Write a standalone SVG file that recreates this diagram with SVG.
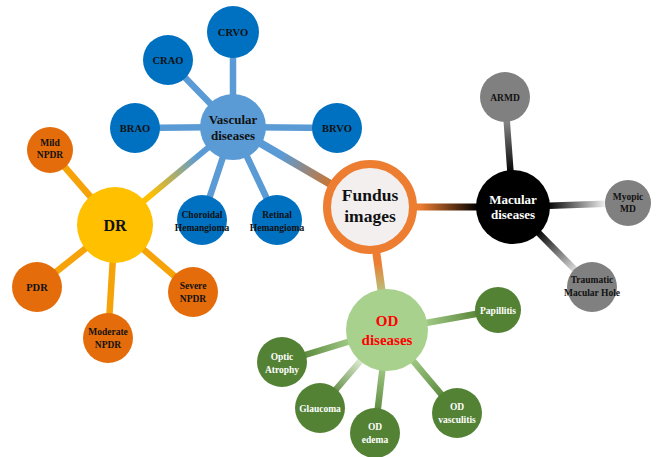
<svg xmlns="http://www.w3.org/2000/svg" width="656" height="457" viewBox="0 0 656 457">
<defs>
<linearGradient id="gVF" gradientUnits="userSpaceOnUse" x1="233" y1="127" x2="370" y2="207"><stop offset="0.35" stop-color="#5b9bd5"/><stop offset="0.8" stop-color="#e46c0a"/></linearGradient>
<linearGradient id="gVD" gradientUnits="userSpaceOnUse" x1="233" y1="127" x2="115" y2="225"><stop offset="0.3" stop-color="#5b9bd5"/><stop offset="0.7" stop-color="#ffc000"/></linearGradient>
<linearGradient id="gFM" gradientUnits="userSpaceOnUse" x1="370" y1="207" x2="513" y2="207"><stop offset="0.35" stop-color="#ed7d31"/><stop offset="0.75" stop-color="#000"/></linearGradient>
<linearGradient id="gFO" gradientUnits="userSpaceOnUse" x1="370" y1="207" x2="387" y2="330"><stop offset="0.45" stop-color="#ed7d31"/><stop offset="0.75" stop-color="#a9d18e"/></linearGradient>
<linearGradient id="gD" gradientUnits="userSpaceOnUse" x1="0" y1="0" x2="1" y2="0"><stop offset="0" stop-color="#ffc000"/></linearGradient>
<linearGradient id="gM1" gradientUnits="userSpaceOnUse" x1="513" y1="207" x2="505" y2="97"><stop offset="0.3" stop-color="#000"/><stop offset="0.85" stop-color="#9a9a9a"/></linearGradient>
<linearGradient id="gM2" gradientUnits="userSpaceOnUse" x1="513" y1="207" x2="628" y2="203"><stop offset="0.3" stop-color="#000"/><stop offset="0.8" stop-color="#eeeeee"/></linearGradient>
<linearGradient id="gM3" gradientUnits="userSpaceOnUse" x1="513" y1="207" x2="592" y2="287"><stop offset="0.3" stop-color="#000"/><stop offset="0.8" stop-color="#e0e0e0"/></linearGradient>
<linearGradient id="gO1" gradientUnits="userSpaceOnUse" x1="387" y1="330" x2="498" y2="310"><stop offset="0.3" stop-color="#a9d18e"/><stop offset="0.85" stop-color="#548235"/></linearGradient>
<linearGradient id="gO2" gradientUnits="userSpaceOnUse" x1="387" y1="330" x2="282" y2="362"><stop offset="0.3" stop-color="#a9d18e"/><stop offset="0.85" stop-color="#548235"/></linearGradient>
<linearGradient id="gO3" gradientUnits="userSpaceOnUse" x1="387" y1="330" x2="320" y2="408"><stop offset="0.35" stop-color="#e8f3df"/><stop offset="0.85" stop-color="#548235"/></linearGradient>
<linearGradient id="gO4" gradientUnits="userSpaceOnUse" x1="387" y1="330" x2="375" y2="433"><stop offset="0.3" stop-color="#a9d18e"/><stop offset="0.85" stop-color="#548235"/></linearGradient>
<linearGradient id="gO5" gradientUnits="userSpaceOnUse" x1="387" y1="330" x2="457" y2="413"><stop offset="0.3" stop-color="#a9d18e"/><stop offset="0.85" stop-color="#548235"/></linearGradient>
</defs>
<style>
text{font-family:"Liberation Serif","Times New Roman",serif;font-weight:bold;text-anchor:middle;fill:#111}
.sm{font-size:10.5px}
.xs{font-size:9.5px}
.w{fill:#fff}
.c line{stroke-linecap:round}
.vb{fill:#0070c0}
.og{fill:#e46c0a}
.gr{fill:#808080}
.dg{fill:#548235}
</style>
<rect width="656" height="457" fill="#fff"/>
<g id="connectors" class="c" fill="none">
<line x1="233" y1="127" x2="370" y2="207" stroke="url(#gVF)" stroke-width="8"/>
<line x1="233" y1="127" x2="115" y2="225" stroke="url(#gVD)" stroke-width="6"/>
<line x1="370" y1="207" x2="513" y2="207" stroke="url(#gFM)" stroke-width="7"/>
<line x1="370" y1="207" x2="387" y2="330" stroke="url(#gFO)" stroke-width="8"/>
<g stroke="#5b9bd5" stroke-width="6.5">
<line x1="233" y1="127" x2="233" y2="32"/>
<line x1="233" y1="127" x2="168" y2="60"/>
<line x1="233" y1="127" x2="135" y2="128"/>
<line x1="233" y1="127" x2="337" y2="128"/>
<line x1="233" y1="127" x2="202" y2="220"/>
<line x1="233" y1="127" x2="277" y2="220"/>
</g>
<g stroke="#f5a308" stroke-width="6.5">
<line x1="115" y1="225" x2="50" y2="150"/>
<line x1="115" y1="225" x2="37" y2="287"/>
<line x1="115" y1="225" x2="108" y2="338"/>
<line x1="115" y1="225" x2="193" y2="292"/>
</g>
<line x1="513" y1="207" x2="505" y2="97" stroke="url(#gM1)" stroke-width="6.5"/>
<line x1="513" y1="207" x2="628" y2="203" stroke="url(#gM2)" stroke-width="6.5"/>
<line x1="513" y1="207" x2="592" y2="287" stroke="url(#gM3)" stroke-width="6.5"/>
<line x1="387" y1="330" x2="498" y2="310" stroke="url(#gO1)" stroke-width="6.5"/>
<line x1="387" y1="330" x2="282" y2="362" stroke="url(#gO2)" stroke-width="6.5"/>
<line x1="387" y1="330" x2="320" y2="408" stroke="url(#gO3)" stroke-width="6.5"/>
<line x1="387" y1="330" x2="375" y2="433" stroke="url(#gO4)" stroke-width="6.5"/>
<line x1="387" y1="330" x2="457" y2="413" stroke="url(#gO5)" stroke-width="6.5"/>
</g>
<g id="fundus"><circle cx="370" cy="207" r="43" fill="#f3efef" stroke="#ed7d31" stroke-width="8"/><text x="370" y="201" font-size="17.5">Fundus</text><text x="370" y="222" font-size="17.5">images</text></g>
<g id="vascular"><circle cx="233" cy="127" r="33" fill="#5b9bd5"/><text x="233" y="124" font-size="13">Vascular</text><text x="233" y="140" font-size="13">diseases</text></g>
<g id="crvo"><circle class="vb" cx="233" cy="32" r="26"/><text class="sm" x="233" y="36">CRVO</text></g>
<g id="crao"><circle class="vb" cx="168" cy="60" r="25"/><text class="sm" x="168" y="64">CRAO</text></g>
<g id="brao"><circle class="vb" cx="135" cy="128" r="25"/><text class="sm" x="135" y="132">BRAO</text></g>
<g id="brvo"><circle class="vb" cx="337" cy="128" r="25"/><text class="sm" x="337" y="132">BRVO</text></g>
<g id="choroidal"><circle class="vb" cx="202" cy="220" r="25"/><text class="xs" x="202" y="218">Choroidal</text><text class="xs" x="202" y="231">Hemangioma</text></g>
<g id="retinal"><circle class="vb" cx="277" cy="220" r="25"/><text class="xs" x="277" y="218">Retinal</text><text class="xs" x="277" y="231">Hemangioma</text></g>
<g id="dr"><circle cx="115" cy="225" r="38" fill="#ffc000"/><text x="115" y="231" font-size="16">DR</text></g>
<g id="mild"><circle class="og" cx="50" cy="150" r="23"/><text class="xs" x="50" y="146">Mild</text><text class="xs" x="50" y="158">NPDR</text></g>
<g id="pdr"><circle class="og" cx="37" cy="287" r="25"/><text class="sm" x="37" y="291">PDR</text></g>
<g id="moderate"><circle class="og" cx="108" cy="338" r="25"/><text class="xs" x="108" y="335">Moderate</text><text class="xs" x="108" y="348">NPDR</text></g>
<g id="severe"><circle class="og" cx="193" cy="292" r="25"/><text class="xs" x="193" y="289">Severe</text><text class="xs" x="193" y="302">NPDR</text></g>
<g id="macular"><circle cx="513" cy="207" r="37" fill="#000"/><text class="w" x="513" y="204" font-size="13">Macular</text><text class="w" x="513" y="219" font-size="13">diseases</text></g>
<g id="armd"><circle class="gr" cx="505" cy="97" r="25"/><text class="xs" x="505" y="101">ARMD</text></g>
<g id="myopic"><circle class="gr" cx="628" cy="203" r="23"/><text class="xs" x="628" y="200">Myopic</text><text class="xs" x="628" y="212">MD</text></g>
<g id="traumatic"><circle class="gr" cx="592" cy="287" r="25"/><text class="xs" x="592" y="283">Traumatic</text><text class="xs" x="592" y="296">Macular Hole</text></g>
<g id="od"><circle cx="387" cy="330" r="41" fill="#a9d18e"/><text x="387" y="326" font-size="15" style="fill:#ff0000">OD</text><text x="387" y="345" font-size="15" style="fill:#ff0000">diseases</text></g>
<g id="papillitis"><circle class="dg" cx="498" cy="310" r="23"/><text class="xs w" x="498" y="314">Papillitis</text></g>
<g id="optic"><circle class="dg" cx="282" cy="362" r="25"/><text class="xs w" x="282" y="360">Optic</text><text class="xs w" x="282" y="373">Atrophy</text></g>
<g id="glaucoma"><circle class="dg" cx="320" cy="408" r="25"/><text class="xs w" x="320" y="412">Glaucoma</text></g>
<g id="edema"><circle class="dg" cx="375" cy="433" r="25"/><text class="xs w" x="375" y="430">OD</text><text class="xs w" x="375" y="443">edema</text></g>
<g id="vasculitis"><circle class="dg" cx="457" cy="413" r="25"/><text class="xs w" x="457" y="410">OD</text><text class="xs w" x="457" y="423">vasculitis</text></g>
</svg>
